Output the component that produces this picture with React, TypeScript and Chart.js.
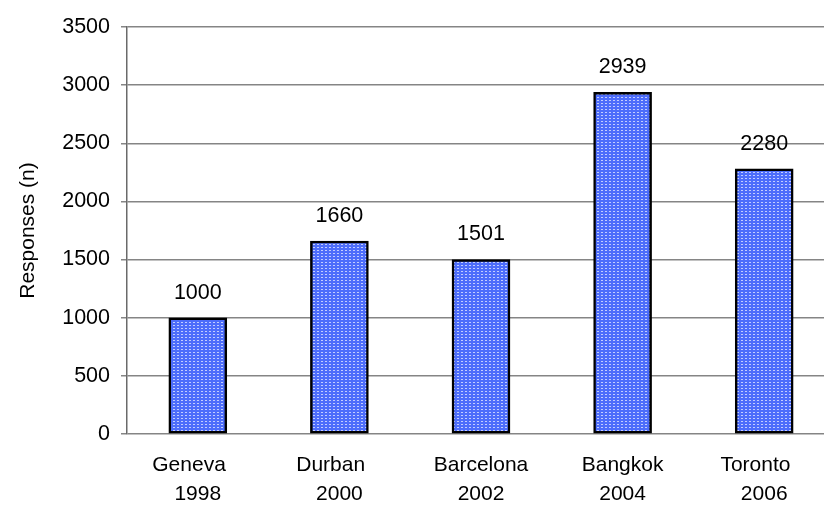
import React, { useEffect, useRef } from "react";
import { Chart, registerables } from "chart.js";

Chart.register(...registerables);

// Conference responses by host city and year
const cities = ["Geneva   ", "Durban   ", "Barcelona", "Bangkok", "Toronto   "];
const years = ["1998", "2000", "2002", "2004", "2006"];
const responses = [1000, 1660, 1501, 2939, 2280];
const yTicks = [0, 500, 1000, 1500, 2000, 2500, 3000, 3500];

const FONT = "'Liberation Sans', Arial, sans-serif";

function makeDotPattern(ctx: CanvasRenderingContext2D): CanvasPattern | string {
  const tile = document.createElement("canvas");
  tile.width = 4;
  tile.height = 3;
  const t = tile.getContext("2d");
  if (!t) return "#5a78ff";
  t.fillStyle = "#4d6dfb";
  t.fillRect(0, 0, 4, 3);
  t.fillStyle = "#c2cdff";
  t.fillRect(1, 1, 2, 1);
  return ctx.createPattern(tile, "repeat") || "#5a78ff";
}

const valueLabels = {
  id: "valueLabels",
  afterDatasetsDraw(chart: any) {
    const ctx = chart.ctx;
    const meta = chart.getDatasetMeta(0);
    ctx.save();
    ctx.font = `21.5px ${FONT}`;
    ctx.fillStyle = "#000";
    ctx.textAlign = "center";
    ctx.textBaseline = "alphabetic";
    meta.data.forEach((bar: any, i: number) => {
      ctx.fillText(String(responses[i]), bar.x, bar.y - 19);
    });
    ctx.restore();
  },
};

export default function App() {
  const ref = useRef<HTMLCanvasElement>(null);

  useEffect(() => {
    const canvas = ref.current;
    if (!canvas) return;
    const ctx = canvas.getContext("2d")!;
    const fill = makeDotPattern(ctx);

    const chart = new Chart(canvas, {
      type: "bar",
      data: {
        labels: cities.map((c, i) => [c, years[i]]),
        datasets: [
          {
            data: responses,
            backgroundColor: fill as any,
            borderColor: "#000",
            borderWidth: 2.5,
            borderSkipped: false,
            barThickness: 58,
          },
        ],
      },
      options: {
        responsive: false,
        animation: false,
        layout: { padding: { top: 27, right: 5, left: 0, bottom: 0 } },
        plugins: {
          legend: { display: false },
          tooltip: { enabled: false },
        },
        scales: {
          x: {
            grid: { display: false, drawTicks: false },
            border: { display: false },
            ticks: {
              color: "#000",
              font: { family: FONT, size: 21, lineHeight: 1.38 },
              padding: 17,
              maxRotation: 0,
              autoSkip: false,
            },
            afterFit(scale: any) {
              scale.height = 71;
            },
          },
          y: {
            min: 0,
            max: 3500,
            afterBuildTicks(scale: any) {
              scale.ticks = yTicks.map((v) => ({ value: v }));
            },
            grid: { color: "#858585", lineWidth: 1.5, tickLength: 6 },
            border: { color: "#6a6a6a", width: 1.5 },
            ticks: {
              color: "#000",
              font: { family: FONT, size: 21.5 },
              padding: 11,
              callback: (v: any) => String(v),
            },
            title: {
              display: true,
              text: "Responses (n)",
              color: "#000",
              font: { family: FONT, size: 21 },
              padding: { top: 16, bottom: 0 },
            },
            afterFit(scale: any) {
              scale.width = 127;
            },
          },
        },
      },
      plugins: [valueLabels],
    });

    return () => chart.destroy();
  }, []);

  return (
    <div
      style={{
        position: "fixed",
        left: 0,
        top: 0,
        width: 824,
        height: 505,
        overflow: "hidden",
        background: "#fff",
      }}
    >
      <canvas ref={ref} width={840} height={505} style={{ display: "block" }} />
    </div>
  );
}
